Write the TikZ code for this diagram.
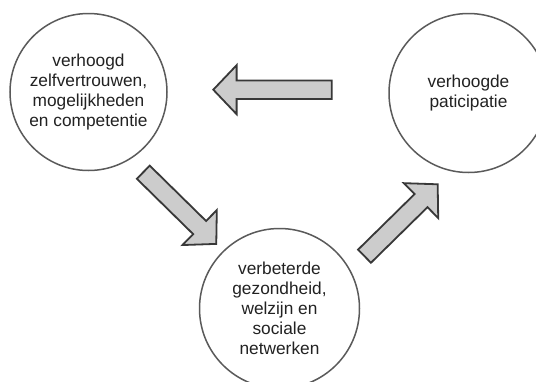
\documentclass[tikz,border=0pt]{standalone}
\usepackage{fontspec}
\setmainfont{Liberation Sans}
\definecolor{ringcol}{HTML}{5A5A5A}
\definecolor{arrowfill}{HTML}{CCCCCC}
\definecolor{arrowline}{HTML}{383838}
\definecolor{txtcol}{HTML}{222222}
\tikzset{
  ring/.style={circle, draw=ringcol, line width=1.5pt, fill=white, inner sep=0pt,
    align=center, text=txtcol, font=\fontsize{17.3}{20}\selectfont},
  arrowbody/.style={draw=arrowline, fill=arrowfill, line width=1.8pt, line join=miter},
  pics/blockarrow/.style={code={
    \draw[arrowbody] (0,9.2) -- ({#1-23.3},9.2) -- ({#1-23.3},24.5) -- (#1,0)
      -- ({#1-23.3},-24.5) -- ({#1-23.3},-9.2) -- (0,-9.2) -- cycle;
  }}
}
\begin{document}
\begin{tikzpicture}[x=1pt,y=-1pt]
\useasboundingbox (0,0) rectangle (536,381);
\fill[white] (0,0) rectangle (536,381);

\node[ring, minimum size=157pt] (zelf) at (88.5,92)
  {verhoogd\\zelfvertrouwen,\\mogelijkheden\\en competentie};
\node[ring, minimum size=159pt] (part) at (468.5,93)
  {verhoogde\\paticipatie};
\node[ring, minimum size=160pt] (gez) at (279.5,308.5)
  {verbeterde\\gezondheid,\\welzijn en\\sociale\\netwerken};

\pic[rotate=180] (arrA) at (331.7,89.7) {blockarrow=118.4};
\pic[rotate=-44.5] (arrB) at (143.3,172.2) {blockarrow=102.3};
\pic[rotate=44.5] (arrC) at (364.5,256.2) {blockarrow=102.6};
\end{tikzpicture}
\end{document}
